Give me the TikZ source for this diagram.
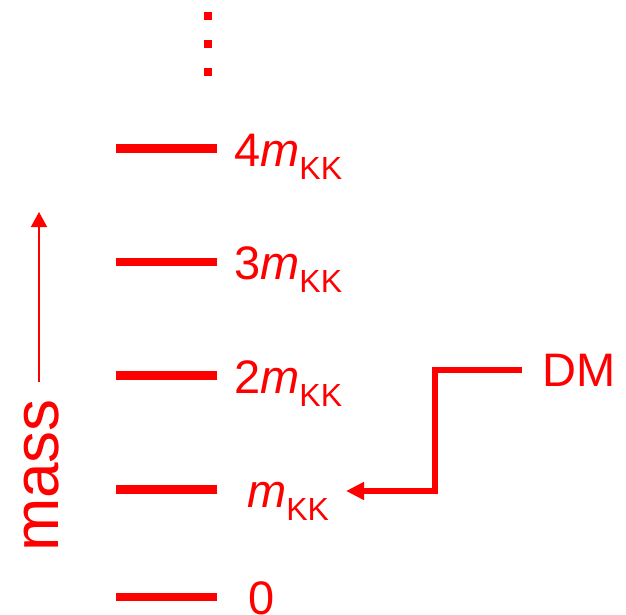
\documentclass[tikz,border=0pt]{standalone}
\usepackage{fontspec}
\setmainfont{Liberation Sans}
\usetikzlibrary{arrows.meta}
\definecolor{pred}{RGB}{255,0,0}
\newcommand\mysub[1]{\raisebox{-13pt}{\fontsize{32}{32}\selectfont #1}}
\begin{document}
\begin{tikzpicture}[x=1pt,y=-1pt,
  level/.style={draw=pred,line width=8.5pt},
  lab/.style={text=pred,font=\fontsize{47}{50}\selectfont,inner sep=0pt,anchor=base west},
  conn/.style={draw=pred,line width=5.5pt,line join=miter},
  dotsq/.style={fill=pred}]
\useasboundingbox (0,0) rectangle (626,615);
% energy levels
\foreach \n/\y in {4/148.5,3/262,2/375.5,1/489.5,0/597} {
  \coordinate (l\n a) at (116,\y);
  \coordinate (l\n b) at (217,\y);
  \draw[level] (l\n a) -- (l\n b);
}
% dots
\fill[dotsq] (204,12) rectangle ++(8,8);
\fill[dotsq] (204,40) rectangle ++(8,8);
\fill[dotsq] (204,68) rectangle ++(8,8);
% labels
\node[lab] (t4) at (234,166) {4\textit{m}\mysub{KK}};
\node[lab] (t3) at (234,279.5) {3\textit{m}\mysub{KK}};
\node[lab] (t2) at (234,393) {2\textit{m}\mysub{KK}};
\node[lab] (t1) at (247,507) {\textit{m}\mysub{KK}};
\node[lab] (t0) at (248,614.5) {0};
% mass axis
\coordinate (ax0) at (39,382);
\coordinate (ax1) at (39,212);
\draw[pred,line width=1.6pt,-{Triangle[length=15pt,width=16pt]}] (ax0) -- (ax1);
\node[rotate=90,anchor=base,text=pred,font=\fontsize{64}{64}\selectfont,inner sep=0pt] (mass) at (58,475.5) {mass};
% DM
\node[lab] (dm) at (542,386) {DM};
\coordinate (bend) at (435,491);
\coordinate (tip) at (346,491);
\draw[conn,-{Triangle[length=18pt,width=17pt]}] ([xshift=-20pt]dm.west) -| (bend) -- (tip);
\end{tikzpicture}
\end{document}
